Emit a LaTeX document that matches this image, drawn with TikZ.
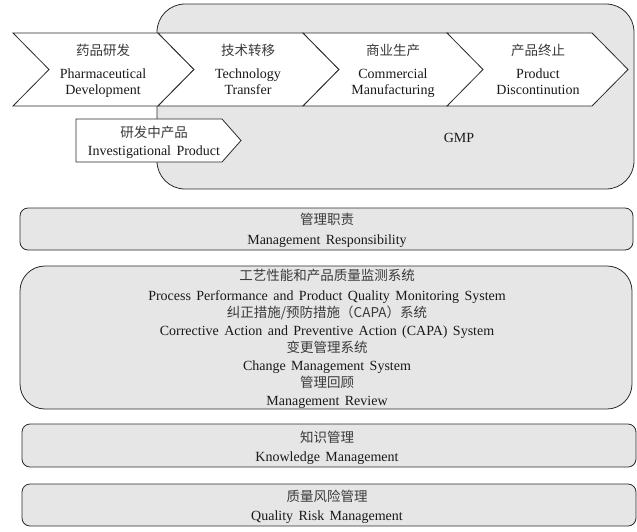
\documentclass[tikz,border=0pt]{standalone}
\usepackage{fontspec}
\setmainfont{Liberation Serif}
\newfontfamily\cjk{Noto Sans CJK SC}
\definecolor{boxgray}{HTML}{E6E6E6}
\definecolor{edge}{HTML}{2B2B2B}
\definecolor{zhtext}{HTML}{3A3A3A}
\newcommand\enfont{\fontsize{14}{16}\selectfont\spaceskip 5.4pt plus 1pt minus 1pt\relax}
\begin{document}
\begin{tikzpicture}[x=1pt,y=-1pt,
  en/.style={inner sep=0pt, anchor=base, text=black!90, font=\enfont},
  zh/.style={inner sep=0pt, anchor=base, text=zhtext, font=\fontsize{13.5}{16}\selectfont\cjk},
  panel/.style={draw=edge, line width=0.8pt, fill=boxgray},
  arrowshape/.style={draw=edge, line width=0.8pt, fill=white, line join=miter}]
\useasboundingbox (0,0) rectangle (637,531);
% GMP panel
\draw[panel, rounded corners=28pt] (157,4) rectangle (634,189);
% chevrons
\foreach \L in {13,158,303,447}
  \draw[arrowshape] (\L,33) -- ++(145,0) -- ++(36,36.5) -- ++(-36,36.5) -- ++(-145,0) -- ++(36,-36.5) -- cycle;
\draw[arrowshape] (76,119) -- (222,119) -- (241,140.5) -- (222,162) -- (76,162) -- cycle;
% chevron texts
\node[zh] (c1z) at (103,55) {药品研发};
\node[en] (c1a) at (103,78) {Pharmaceutical};
\node[en] (c1b) at (103,94) {Development};
\node[zh] (c2z) at (248,55) {技术转移};
\node[en] (c2a) at (248,78) {Technology};
\node[en] (c2b) at (248,94) {Transfer};
\node[zh] (c3z) at (393,55) {商业生产};
\node[en] (c3a) at (393,78) {Commercial};
\node[en] (c3b) at (393,94) {Manufacturing};
\node[zh] (c4z) at (538,55) {产品终止};
\node[en] (c4a) at (538,78) {Product};
\node[en] (c4b) at (538,94) {Discontinution};
\node[zh] (ipz) at (154,137) {研发中产品};
\node[en] (ipe) at (154,155) {Investigational Product};
\node[en] (gmp) at (459,142) {GMP};
% lower panels
\draw[panel, rounded corners=8pt] (20,208) rectangle (633,250);
\draw[panel, rounded corners=25pt] (20,266) rectangle (632,409);
\draw[panel, rounded corners=8pt] (22,424) rectangle (636,467);
\draw[panel, rounded corners=8pt] (22,484) rectangle (636,526);
\node[zh] (mrz) at (327,224) {管理职责};
\node[en] (mre) at (327,244) {Management Responsibility};
\node[zh] (p1z) at (327,280) {工艺性能和产品质量监测系统};
\node[en] (p1e) at (327,300) {Process Performance and Product Quality Monitoring System};
\node[zh] (p2z) at (327,317) {纠正措施/预防措施（CAPA）系统};
\node[en] (p2e) at (327,335) {Corrective Action and Preventive Action (CAPA) System};
\node[zh] (p3z) at (327,352) {变更管理系统};
\node[en] (p3e) at (327,370) {Change Management System};
\node[zh] (p4z) at (327,387) {管理回顾};
\node[en] (p4e) at (327,405) {Management Review};
\node[zh] (kmz) at (327,442) {知识管理};
\node[en] (kme) at (327,461) {Knowledge Management};
\node[zh] (qrz) at (327,501) {质量风险管理};
\node[en] (qre) at (327,520) {Quality Risk Management};
\end{tikzpicture}
\end{document}
